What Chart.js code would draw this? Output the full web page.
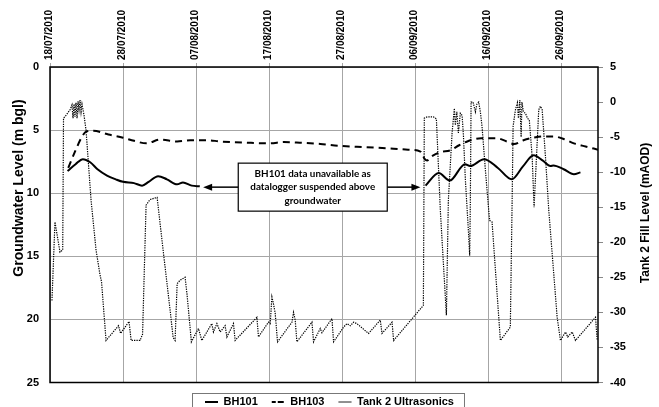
<!DOCTYPE html>
<html>
<head>
<meta charset="utf-8">
<script src="https://cdn.jsdelivr.net/npm/chart.js@4.4.1/dist/chart.umd.min.js"></script>
<style>
  html, body { margin: 0; padding: 0; background: #fff; }
</style>
</head>
<body>
<canvas id="myChart" width="659" height="407"></canvas>
<script>
// x values are days counted from 18/07/2010
var tickDays = [0, 10, 20, 30, 40, 50, 60, 70];
var tickLabels = ['18/07/2010', '28/07/2010', '07/08/2010', '17/08/2010',
                  '27/08/2010', '06/09/2010', '16/09/2010', '26/09/2010'];

// BH101 groundwater level (m bgl), null = logger out of water
var bh101Days  = [2.4, 3.5, 4.5, 5.5, 6.5, 7.8, 9, 10, 11.5, 12.6, 13.5, 14.8, 16, 17.4, 18.2, 19.4, 20.5,
                  35,
                  51.4, 53.2, 54.7, 56.8, 57.5, 59.4, 61.3, 63.2, 64.7, 66.2, 67.4, 68.5, 68.9, 70.3, 71.7, 72.6];
var bh101Level = [8.25, 7.7, 7.3, 7.55, 8.1, 8.6, 8.9, 9.1, 9.2, 9.4, 9.1, 8.65, 8.9, 9.3, 9.15, 9.4, 9.45,
                  null,
                  9.4, 8.4, 9.0, 7.7, 7.85, 7.3, 8.0, 8.9, 7.9, 7.0, 7.4, 7.85, 7.8, 8.1, 8.5, 8.35];

// BH103 groundwater level (m bgl)
var bh103Days  = [2.5, 3.5, 4.4, 5.0, 5.9, 8, 10, 11.5, 13.2, 15.1, 17.4, 19.2, 21.5, 23.3, 27, 30.1, 32,
                  34.2, 37, 39.7, 43, 46.6, 49, 50.7, 51.3, 51.6, 52.2, 53.4, 54.8, 56, 57.1, 59, 61.2,
                  62.5, 63.5, 64.8, 66.2, 67.5, 68.9, 70.3, 71.7, 73.3, 75];
var bh103Level = [8.0, 6.6, 5.5, 5.1, 5.05, 5.35, 5.6, 5.85, 6.05, 5.75, 5.9, 5.8, 5.8, 5.9, 6.0, 6.05, 5.95,
                  6.0, 6.1, 6.25, 6.35, 6.45, 6.55, 6.7, 7.3, 7.4, 7.1, 6.75, 6.6, 6.2, 5.9, 5.65, 5.65,
                  5.9, 6.1, 5.8, 5.6, 5.5, 5.5, 5.7, 6.05, 6.3, 6.55];

// Tank 2 ultrasonic fill level (mAOD)
var tankDays  = [0.27, 0.68, 1.37, 1.74, 1.85, 2.19, 2.74, 3.01, 3.15, 3.29, 3.42, 3.56, 3.70, 3.84, 3.97,
                 4.11, 4.25, 4.38, 4.66, 4.93, 5.62, 6.30, 6.85, 7.05, 7.67, 9.38, 9.66, 10.82, 11.10,
                 12.33, 12.67, 13.15, 13.70, 14.66, 15.48, 16.44, 16.85, 17.12, 17.40, 17.81, 18.49,
                 18.77, 19.35, 20.32, 20.78, 22.15, 22.37, 22.84, 23.29, 23.97, 24.21, 25.11, 25.34,
                 28.32, 28.53, 29.90, 30.14, 30.37, 30.55, 30.82, 31.14, 33.11, 33.33, 33.56, 33.79,
                 35.85, 36.07, 36.99, 37.22, 38.59, 38.81, 40.18, 40.64, 41.10, 41.55, 42.00, 43.60,
                 45.20, 45.44, 46.81, 47.03, 51.10, 51.23, 51.64, 52.47, 52.88, 53.42, 54.25, 54.52,
                 55.03, 55.34, 55.48, 55.68, 55.89, 56.16, 56.40, 56.58, 56.85, 57.26, 57.44, 57.53,
                 57.63, 57.90, 58.22, 58.42, 58.67, 58.90, 59.13, 59.59, 60.04, 60.18, 60.50, 61.64,
                 63.00, 63.25, 63.38, 63.70, 63.97, 64.11, 64.30, 64.48, 64.59, 64.79, 65.07, 65.34,
                 65.60, 65.99, 66.25, 66.89, 67.12, 67.36, 67.81, 68.26, 69.41, 69.86, 70.55, 70.86,
                 71.47, 71.92, 74.66, 74.89];
var tankLevel = [-28.3, -17.1, -21.4, -21.1, -2.3, -1.9, -1.1, -0.4, -2.3, -0.3, -2.1, -0.1, -2.3, 0.1, -1.1,
                 0.3, -1.4, -0.3, -1.9, -4.0, -14.0, -21.1, -24.7, -25.6, -34.0, -31.9, -33.0, -31.3, -34.0,
                 -34.0, -33.1, -14.7, -13.9, -13.6, -21.1, -29.7, -33.6, -34.0, -25.9, -25.4, -25.0,
                 -27.6, -34.2, -32.3, -34.0, -31.6, -32.8, -31.6, -32.8, -31.9, -33.5, -31.6, -34.0,
                 -30.7, -33.5, -31.4, -31.6, -27.8, -28.6, -30.1, -34.2, -31.4, -30.0, -31.1, -34.2,
                 -31.4, -34.2, -32.3, -32.9, -30.9, -34.2, -32.1, -31.6, -31.9, -31.4, -31.6, -33.0,
                 -31.1, -33.0, -31.4, -34.0, -29.0, -2.3, -2.1, -2.1, -2.4, -15.4, -30.4, -14.0,
                 -4.4, -0.9, -3.3, -1.4, -4.4, -1.6, -1.9, -4.7, -11.1, -18.3, -21.9, -14.0,
                 0.0, 0.0, -1.4, -0.3, 0.0, -1.4, -3.5, -9.7, -15.4, -16.9, -17.1, -34.0,
                 -32.1, -14.0, -3.5, -1.1, -0.1, -2.3, 0.3, -5.0, 0.0, -1.4, -1.6, -2.3,
                 -2.6, -7.8, -15.0, -1.1, -0.6, -1.1, -7.8, -15.4, -30.7, -34.0, -32.8, -33.5,
                 -32.8, -34.0, -30.7, -34.0];

// note about the BH101 gap
var noteLines = ['BH101 data unavailable as', 'datalogger suspended above', 'groundwater'];
var noteDay = 35.96;
var noteLevel = 9.52;
var arrowLeftDay = 20.96;
var arrowRightDay = 50.7;

// legend samples
var legendDash = [[], [4, 4], [1, 1]];
var legendWidth = [2, 2, 1];

function toPoints(xs, ys) {
  var pts = [];
  for (var i = 0; i < xs.length; i++) {
    pts.push({ x: xs[i], y: ys[i] });
  }
  return pts;
}

Chart.defaults.font.family = '"Liberation Sans", Arial, sans-serif';
Chart.defaults.color = '#000';

function arrow(ctx, x0, y0, x1, y1) {
  var dir = x1 > x0 ? 1 : -1;
  ctx.beginPath();
  ctx.moveTo(x0, y0);
  ctx.lineTo(x1 - dir * 7, y1);
  ctx.stroke();
  ctx.beginPath();
  ctx.moveTo(x1, y1);
  ctx.lineTo(x1 - dir * 9, y1 - 3.5);
  ctx.lineTo(x1 - dir * 9, y1 + 3.5);
  ctx.closePath();
  ctx.fill();
}

function vText(ctx, text, x, y, size) {
  ctx.save();
  ctx.translate(x, y);
  ctx.rotate(-Math.PI / 2);
  ctx.font = 'bold ' + size + 'px "Liberation Sans", Arial, sans-serif';
  ctx.fillStyle = '#000';
  ctx.textAlign = 'center';
  ctx.textBaseline = 'middle';
  ctx.fillText(text, 0, 0);
  ctx.restore();
}

var extras = {
  id: 'extras',
  afterDatasetsDraw: function(chart) {
    var ctx = chart.ctx;
    var a = chart.chartArea;
    var xs = chart.scales.x, ys = chart.scales.yL;
    ctx.save();
    // plot frame
    ctx.strokeStyle = '#000';
    ctx.lineWidth = 1.5;
    ctx.strokeRect(a.left, a.top, a.right - a.left, a.bottom - a.top);

    // note box with arrows
    var cx = xs.getPixelForValue(noteDay);
    var cy = ys.getPixelForValue(noteLevel);
    var bw = 149, bh = 48;
    ctx.fillStyle = '#fff';
    ctx.fillRect(cx - bw / 2, cy - bh / 2, bw, bh);
    ctx.lineWidth = 1.2;
    ctx.strokeRect(cx - bw / 2, cy - bh / 2, bw, bh);
    ctx.fillStyle = '#000';
    ctx.lineWidth = 1.5;
    arrow(ctx, cx - bw / 2, cy, xs.getPixelForValue(arrowLeftDay), cy);
    arrow(ctx, cx + bw / 2, cy, xs.getPixelForValue(arrowRightDay), cy);

    var size = 12;
    ctx.font = 'bold ' + size + 'px Lato, "Noto Sans", sans-serif';
    var widest = 0;
    noteLines.forEach(function(t) { widest = Math.max(widest, ctx.measureText(t).width); });
    size = Math.min(13, size * 125 / widest);
    ctx.font = 'bold ' + size + 'px Lato, "Noto Sans", sans-serif';
    ctx.textAlign = 'center';
    ctx.textBaseline = 'middle';
    noteLines.forEach(function(t, i) {
      ctx.fillText(t, cx, cy + (i - 1) * 13.7);
    });
    ctx.restore();
  },
  afterDraw: function(chart) {
    var ctx = chart.ctx;
    // axis titles, both reading upwards
    vText(ctx, 'Groundwater Level (m bgl)', 19, 188, 14);
    vText(ctx, 'Tank 2 Fill Level (mAOD)', 646, 213, 12);

    // legend frame
    var boxes = chart.legend.legendHitBoxes;
    if (boxes && boxes.length) {
      var first = boxes[0], last = boxes[boxes.length - 1];
      var mid = first.top + first.height / 2;
      ctx.save();
      ctx.strokeStyle = '#777';
      ctx.lineWidth = 1;
      ctx.strokeRect(first.left - 12.5, mid - 8.5, last.left + last.width - first.left + 23, 30);
      ctx.restore();
    }
  }
};

const ctx = document.getElementById('myChart').getContext('2d');
const myChart = new Chart(ctx, {
  type: 'line',
  data: {
    datasets: [{
      label: 'BH101',
      data: toPoints(bh101Days, bh101Level),
      yAxisID: 'yL',
      borderColor: '#000',
      borderWidth: 2,
      pointRadius: 0,
      cubicInterpolationMode: 'monotone',
      spanGaps: false
    }, {
      label: 'BH103',
      data: toPoints(bh103Days, bh103Level),
      yAxisID: 'yL',
      borderColor: '#000',
      borderWidth: 2,
      borderDash: [7, 5],
      pointRadius: 0,
      cubicInterpolationMode: 'monotone'
    }, {
      label: 'Tank 2 Ultrasonics',
      data: toPoints(tankDays, tankLevel),
      yAxisID: 'yR',
      borderColor: '#000',
      borderWidth: 1.2,
      borderDash: [1.3, 1.1],
      pointRadius: 0,
      tension: 0
    }]
  },
  options: {
    responsive: false,
    animation: false,
    layout: { padding: { left: 0, right: 0, top: 0, bottom: -10.5 } },
    plugins: {
      legend: {
        position: 'bottom',
        labels: {
          boxWidth: 13,
          boxHeight: 0,
          padding: 14,
          color: '#000',
          font: { size: 11, weight: 'bold' },
          generateLabels: function(chart) {
            var items = Chart.defaults.plugins.legend.labels.generateLabels(chart);
            items.forEach(function(it, i) {
              it.lineDash = legendDash[i];
              it.lineWidth = legendWidth[i];
              it.strokeStyle = '#000';
              it.fillStyle = '#000';
            });
            return items;
          }
        }
      },
      tooltip: { enabled: false }
    },
    scales: {
      x: {
        type: 'linear',
        position: 'top',
        min: 0,
        max: 75,
        afterBuildTicks: function(s) {
          s.ticks = tickDays.map(function(v) { return { value: v }; });
        },
        afterFit: function(s) { s.height = 67; },
        ticks: {
          autoSkip: false,
          maxRotation: 90,
          minRotation: 90,
          padding: 3,
          labelOffset: 11,
          font: { size: 10, weight: 'bold' },
          callback: function(v) { return tickLabels[tickDays.indexOf(v)]; }
        },
        grid: { color: '#a6a6a6', lineWidth: 1, tickLength: 4 },
        border: { display: false }
      },
      yL: {
        type: 'linear',
        position: 'left',
        reverse: true,
        min: 0,
        max: 25,
        afterFit: function(s) { s.width = 50; },
        ticks: { stepSize: 5, padding: 11, font: { size: 11, weight: 'bold' } },
        grid: { color: '#a6a6a6', lineWidth: 1, drawTicks: false },
        border: { display: false }
      },
      yR: {
        type: 'linear',
        position: 'right',
        min: -40,
        max: 5,
        afterFit: function(s) { s.width = 61; },
        ticks: { stepSize: 5, padding: 7, font: { size: 11, weight: 'bold' } },
        grid: { drawOnChartArea: false, color: '#888', tickLength: 5 },
        border: { display: false }
      }
    }
  },
  plugins: [extras]
});
</script>
</body>
</html>
